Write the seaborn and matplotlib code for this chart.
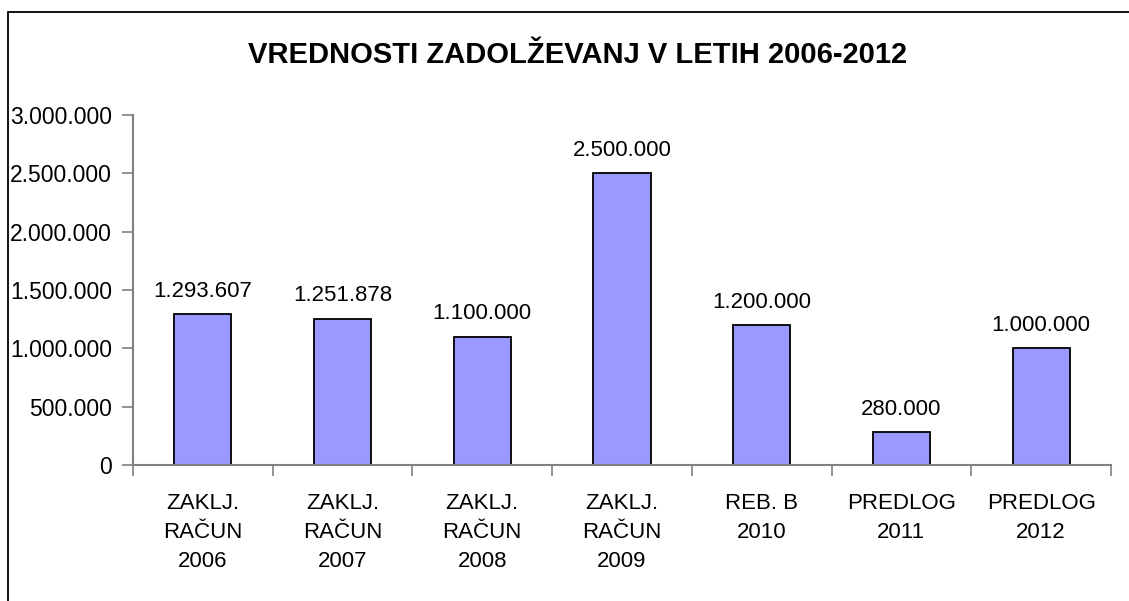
import matplotlib
matplotlib.use("Agg")
import matplotlib.pyplot as plt
import seaborn as sns
import pandas as pd
from matplotlib.ticker import FuncFormatter, MultipleLocator
from matplotlib.patches import Rectangle

categories = ["ZAKLJ.\nRAČUN\n2006", "ZAKLJ.\nRAČUN\n2007", "ZAKLJ.\nRAČUN\n2008",
              "ZAKLJ.\nRAČUN\n2009", "REB. B\n2010", "PREDLOG\n2011", "PREDLOG\n2012"]
values = [1293607, 1251878, 1100000, 2500000, 1200000, 280000, 1000000]

df = pd.DataFrame({"kategorija": categories, "vrednost": values})

sns.set_style("white")
plt.rcParams["font.family"] = ["Liberation Sans", "DejaVu Sans"]
plt.rcParams["text.color"] = "black"
plt.rcParams["xtick.labelcolor"] = "black"
plt.rcParams["ytick.labelcolor"] = "black"


def dots(v):
    return f"{int(round(v)):,}".replace(",", ".")


fig = plt.figure(figsize=(11.29, 6.01), dpi=100)
ax = fig.add_axes([133 / 1129, 1 - 465 / 601, (1111 - 133) / 1129, 350 / 601])

sns.barplot(data=df, x="kategorija", y="vrednost", color="#9999FF",
            edgecolor="black", linewidth=1.3, width=0.41, saturation=1, ax=ax)

ax.set_ylim(0, 3000000)
ax.set_xlim(-0.5, len(categories) - 0.5)
ax.yaxis.set_major_locator(MultipleLocator(500000))
ax.yaxis.set_major_formatter(FuncFormatter(lambda v, p: dots(v)))
ax.set_xlabel("")
ax.set_ylabel("")

# category ticks sit between the bars, labels in the middle
ax.set_xticks([i - 0.5 for i in range(len(categories) + 1)])
ax.set_xticklabels([])
ax.set_xticks(range(len(categories)), minor=True)
ax.set_xticklabels(categories, minor=True, fontsize=16, linespacing=1.5)
ax.tick_params(axis="x", which="minor", length=0, pad=20.5)
ax.tick_params(axis="x", which="major", direction="out", length=8, width=1.2, color="#808080", bottom=True)
ax.tick_params(axis="y", direction="out", length=8, width=1.2, color="#808080", left=True, labelsize=16.5, pad=7)

for side in ["top", "right"]:
    ax.spines[side].set_visible(False)
for side in ["left", "bottom"]:
    ax.spines[side].set_color("#808080")
    ax.spines[side].set_linewidth(1.5)

for i, v in enumerate(values):
    ax.annotate(dots(v), (i, v), xytext=(0, 9), textcoords="offset points",
                ha="center", va="bottom", fontsize=16)

fig.text(578 / 1129, 1 - 55 / 601, "VREDNOSTI ZADOLŽEVANJ V LETIH 2006-2012",
         ha="center", va="center", fontsize=21, fontweight="bold")

# chart frame, cut off at right and bottom
fig.patches.append(Rectangle((8 / 1129, -0.1), 1.2, 1 - 12 / 601 + 0.1,
                             transform=fig.transFigure, fill=False,
                             edgecolor="black", linewidth=1.3))

fig.savefig("out.png", dpi=100)
